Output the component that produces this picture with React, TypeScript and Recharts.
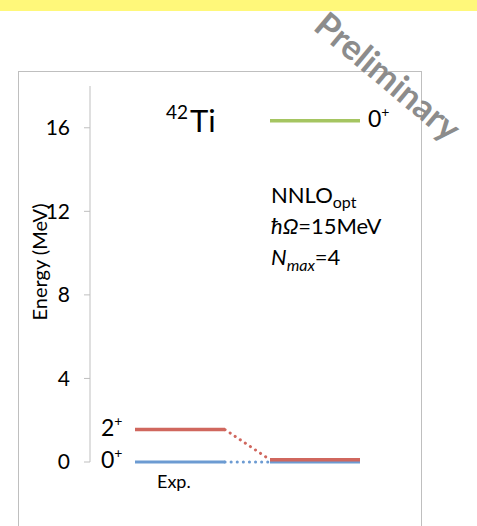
import React from "react";
import { ComposedChart, Line, XAxis, YAxis, Customized } from "recharts";

// x positions of the level bars: exp. start, exp. end, calc. start, calc. end
const levelX = [1, 3, 4, 6];
const yTicks = [0, 4, 8, 12, 16];

// energies in MeV
const exp0 = 0;
const exp2 = 1.55;
const calc0 = 0;
const calc2 = 0.11;
const calc0b = 16.34;

const FONT = "Lato, 'Open Sans', sans-serif";
const RED = "#D0675E";
const BLUE = "#6C9BD2";
const GREEN = "#A5C561";

const bar = (x0: number, x1: number, y: number) => [
  { x: x0, y },
  { x: x1, y },
];
const link = (x0: number, y0: number, x1: number, y1: number) => [
  { x: x0, y: y0 },
  { x: x1, y: y1 },
];

const levelLabel = (spin: string, side: "left" | "right") => (props: any) => {
  const { x, y, index } = props;
  if (side === "left" && index !== 0) return null;
  if (side === "right" && index !== 1) return null;
  const tx = side === "left" ? x - 34 : x + 8;
  return (
    <text x={tx} y={y + 6} fontSize={23} fontFamily={FONT} fill="#000">
      {spin}
      <tspan fontSize={14} dy={-10}>
        +
      </tspan>
    </text>
  );
};

const Notes = () => (
  <g fontFamily={FONT} fill="#000">
    <text x={166} y={119} fontSize={19}>
      42
    </text>
    <text x={190} y={132} fontSize={31}>
      Ti
    </text>
    <text x={271} y={203} fontSize={22}>
      NNLO
      <tspan fontSize={16} dy={5}>
        opt
      </tspan>
    </text>
    <text x={271} y={234} fontSize={22}>
      <tspan fontStyle="italic">ħΩ</tspan>=15MeV
    </text>
    <text x={271} y={265} fontSize={22}>
      <tspan fontStyle="italic">N</tspan>
      <tspan fontSize={16} fontStyle="italic" dy={6}>
        max
      </tspan>
      <tspan dy={-6}>=4</tspan>
    </text>
    <text x={157} y={488} fontSize={18}>
      Exp.
    </text>
    <text
      x={0}
      y={0}
      fontSize={20}
      textAnchor="middle"
      transform="translate(47,262) rotate(-90)"
    >
      Energy (MeV)
    </text>
  </g>
);

export default function App() {
  return (
    <div
      style={{
        position: "absolute",
        left: 0,
        top: 0,
        width: 477,
        height: 526,
        overflow: "hidden",
        background: "#fff",
      }}
    >
      <div
        style={{
          position: "absolute",
          left: 0,
          top: 0,
          width: 477,
          height: 11,
          background: "#FFF87A",
        }}
      />
      <div
        style={{
          position: "absolute",
          left: 18,
          top: 71,
          width: 402,
          height: 600,
          border: "1px solid #BFBFBF",
        }}
      />
      <div style={{ position: "absolute", left: 0, top: 0 }}>
        <ComposedChart
          width={477}
          height={526}
          margin={{ top: 86, right: 72, bottom: 64, left: 0 }}
        >
          <XAxis
            type="number"
            dataKey="x"
            domain={[0, 7]}
            hide
            allowDataOverflow
          />
          <YAxis
            type="number"
            domain={[0, 18]}
            ticks={yTicks}
            width={90}
            axisLine={{ stroke: "#BFBFBF" }}
            tickLine={{ stroke: "#BFBFBF" }}
            tickSize={6}
            tickMargin={14}
            tick={{ fontSize: 21, fontFamily: FONT, fill: "#000" }}
          />
          <Line
            data={bar(levelX[0], levelX[1], exp0)}
            dataKey="y"
            stroke={BLUE}
            strokeWidth={3}
            dot={false}
            isAnimationActive={false}
            label={levelLabel("0", "left")}
          />
          <Line
            data={link(levelX[1], exp0, levelX[2], calc0)}
            dataKey="y"
            stroke={BLUE}
            strokeWidth={3}
            strokeDasharray="0.1 6"
            strokeLinecap="round"
            dot={false}
            isAnimationActive={false}
          />
          <Line
            data={bar(levelX[2], levelX[3], calc0)}
            dataKey="y"
            stroke={BLUE}
            strokeWidth={3}
            dot={false}
            isAnimationActive={false}
          />
          <Line
            data={bar(levelX[0], levelX[1], exp2)}
            dataKey="y"
            stroke={RED}
            strokeWidth={3.5}
            dot={false}
            isAnimationActive={false}
            label={levelLabel("2", "left")}
          />
          <Line
            data={link(levelX[1], exp2, levelX[2], calc2)}
            dataKey="y"
            stroke={RED}
            strokeWidth={3}
            strokeDasharray="0.1 6"
            strokeLinecap="round"
            dot={false}
            isAnimationActive={false}
          />
          <Line
            data={bar(levelX[2], levelX[3], calc2)}
            dataKey="y"
            stroke={RED}
            strokeWidth={3.5}
            dot={false}
            isAnimationActive={false}
          />
          <Line
            data={bar(levelX[2], levelX[3], calc0b)}
            dataKey="y"
            stroke={GREEN}
            strokeWidth={3.5}
            dot={false}
            isAnimationActive={false}
            label={levelLabel("0", "right")}
          />
          <Customized component={Notes} />
        </ComposedChart>
      </div>
      <svg
        width={477}
        height={526}
        style={{ position: "absolute", left: 0, top: 0, pointerEvents: "none" }}
      >
        <text
          x={0}
          y={0}
          fontSize={35}
          fontWeight="bold"
          fontFamily={FONT}
          fill="#8C8C8C"
          textAnchor="middle"
          transform="translate(380,86) rotate(40)"
        >
          Preliminary
        </text>
      </svg>
    </div>
  );
}
